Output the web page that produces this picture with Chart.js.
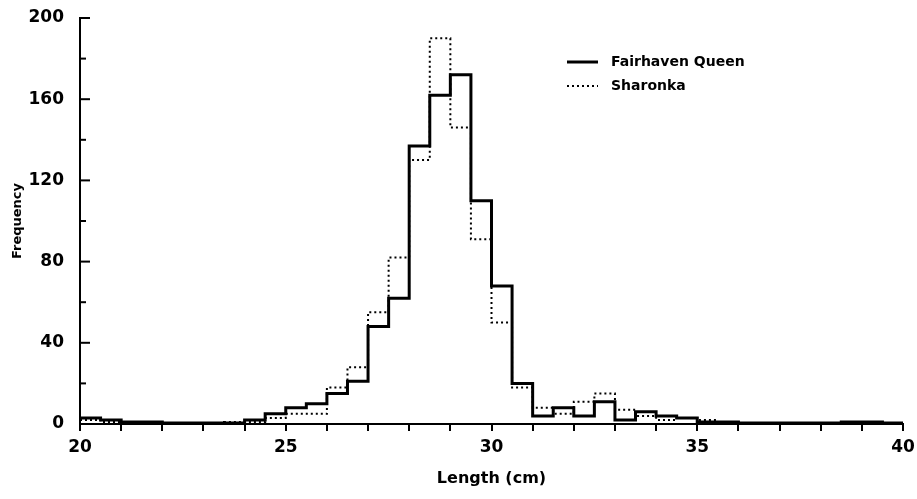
<!DOCTYPE html>
<html lang="en">
<head>
  <meta charset="UTF-8">
  <title>Length frequency</title>
  <script src="https://cdn.jsdelivr.net/npm/chart.js"></script>
  <style>
    body {
      margin: 0;
      background: white;
    }
    canvas {
      display: block;
    }
  </style>
</head>
<body>

<canvas id="lengthChart" width="917" height="499"></canvas>

<script>
  // left edges of the 0.5 cm length classes
  const binEdges = [20, 20.5, 21, 21.5, 22, 22.5, 23, 23.5, 24, 24.5,
                    25, 25.5, 26, 26.5, 27, 27.5, 28, 28.5, 29, 29.5,
                    30, 30.5, 31, 31.5, 32, 32.5, 33, 33.5, 34, 34.5,
                    35, 35.5, 36, 36.5, 37, 37.5, 38, 38.5, 39, 39.5];
  const lastEdge = 40;

  const fairhavenQueen = [3, 2, 1, 1, 0.5, 0.5, 0.5, 0.5, 2, 5,
                          8, 10, 15, 21, 48, 62, 137, 162, 172, 110,
                          68, 20, 4, 8, 4, 11, 2, 6, 4, 3,
                          1, 1, 0.5, 0.5, 0.5, 0.5, 0.5, 1, 1, 0.5];
  const sharonka = [2, 1, 0.5, 0.5, 0.5, 0, 0.5, 1, 1, 3,
                    5, 5, 18, 28, 55, 82, 130, 190, 146, 91,
                    50, 18, 8, 5, 11, 15, 7, 4, 2, 3,
                    2, 1, 0.5, 0, 0, 0, 0.5, 1, 1, 0.5];

  const seriesNames = ["Fairhaven Queen", "Sharonka"];
  const xLabelTicks = [20, 25, 30, 35, 40];
  const yLabelTicks = [0, 40, 80, 120, 160, 200];

  function toSteps(values) {
    let pts = binEdges.map((e, i) => ({ x: e, y: values[i] }));
    pts.push({ x: lastEdge, y: values[values.length - 1] });
    return pts;
  }

  const fontFamily = "'DejaVu Sans', Arial, sans-serif";

  // y ticks point into the plot, long at labelled values
  const inwardTicks = {
    id: "inwardTicks",
    afterDraw(chart) {
      const ctx = chart.ctx;
      const y = chart.scales.y;
      ctx.save();
      ctx.strokeStyle = "black";
      ctx.lineWidth = 2;
      for (let v = 0; v <= 200; v += 20) {
        const py = y.getPixelForValue(v);
        const len = yLabelTicks.includes(v) ? 10 : 6;
        ctx.beginPath();
        ctx.moveTo(y.right, py);
        ctx.lineTo(y.right + len, py);
        ctx.stroke();
      }
      ctx.restore();
    }
  };

  const sampleLegend = {
    id: "sampleLegend",
    afterDraw(chart) {
      const ctx = chart.ctx;
      ctx.save();
      chart.data.datasets.forEach((ds, i) => {
        const ly = 62 + i * 24;
        ctx.strokeStyle = "black";
        ctx.lineWidth = ds.borderWidth;
        ctx.setLineDash(ds.borderDash || []);
        ctx.beginPath();
        ctx.moveTo(567, ly);
        ctx.lineTo(598, ly);
        ctx.stroke();
        ctx.setLineDash([]);
        ctx.fillStyle = "black";
        ctx.font = "bold 14px " + fontFamily;
        ctx.textBaseline = "middle";
        ctx.fillText(ds.label, 611, ly);
      });
      ctx.restore();
    }
  };

  const chartCtx = document.getElementById("lengthChart").getContext("2d");
  const lengthChart = new Chart(chartCtx, {
    type: "line",
    data: {
      datasets: [{
        label: seriesNames[0],
        data: toSteps(fairhavenQueen),
        stepped: "before",
        borderColor: "black",
        borderWidth: 3,
        pointRadius: 0,
        fill: false
      }, {
        label: seriesNames[1],
        data: toSteps(sharonka),
        stepped: "before",
        borderColor: "black",
        borderWidth: 2,
        borderDash: [2, 3],
        pointRadius: 0,
        fill: false
      }]
    },
    options: {
      responsive: false,
      animation: false,
      layout: { padding: { top: 18, right: 14, left: 0, bottom: 0 } },
      plugins: {
        legend: { display: false },
        tooltip: { enabled: false }
      },
      scales: {
        x: {
          type: "linear",
          min: 20,
          max: 40,
          afterFit: (s) => { s.height = 75; s.paddingLeft = 0; s.paddingRight = 0; },
          border: { color: "black", width: 2 },
          grid: { drawOnChartArea: false, drawTicks: true, tickLength: 7, color: "black", lineWidth: 2 },
          ticks: {
            stepSize: 1,
            autoSkip: false,
            maxRotation: 0,
            padding: 6,
            color: "black",
            font: { family: fontFamily, weight: "bold", size: 17 },
            callback: (v) => xLabelTicks.includes(v) ? v : ""
          },
          title: {
            display: true,
            text: "Length (cm)",
            color: "black",
            padding: { top: 2, bottom: 11 },
            font: { family: fontFamily, weight: "bold", size: 16 }
          }
        },
        y: {
          min: 0,
          max: 200,
          afterFit: (s) => { s.width = 80; s.paddingTop = 0; s.paddingBottom = 0; },
          border: { color: "black", width: 2 },
          grid: { drawOnChartArea: false, drawTicks: false },
          ticks: {
            stepSize: 20,
            autoSkip: false,
            padding: 16,
            color: "black",
            font: { family: fontFamily, weight: "bold", size: 17 },
            callback: (v) => yLabelTicks.includes(v) ? v : ""
          },
          title: {
            display: true,
            text: "Frequency",
            color: "black",
            padding: { top: 10, bottom: 0 },
            font: { family: fontFamily, weight: "bold", size: 13 }
          }
        }
      }
    },
    plugins: [inwardTicks, sampleLegend]
  });
</script>

</body>
</html>
